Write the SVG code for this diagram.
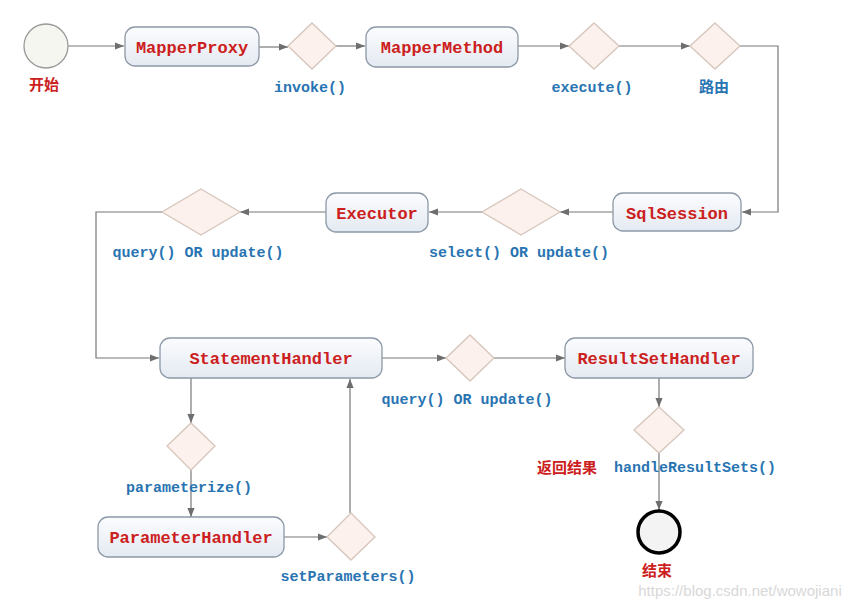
<svg xmlns="http://www.w3.org/2000/svg" width="850" height="600" viewBox="0 0 850 600">
<defs>
<linearGradient id="boxg" x1="0" y1="0" x2="0" y2="1">
<stop offset="0" stop-color="#fbfcfe"/>
<stop offset="1" stop-color="#e4eaf2"/>
</linearGradient>
<marker id="arr" viewBox="0 0 10 10" refX="10" refY="5" markerWidth="9" markerHeight="9" markerUnits="userSpaceOnUse" orient="auto">
<path d="M0,1 L10,5 L0,9 z" fill="#6e6e6e"/>
</marker>
<style>
.box{fill:url(#boxg);stroke:#8d99a6;stroke-width:1.3}
.dia{fill:#fcf1ec;stroke:#d6c6bc;stroke-width:1.3}
.bt{font-family:"Liberation Mono",monospace;font-weight:bold;font-size:17px;fill:#cc2020;text-anchor:middle}
.lb{font-family:"Liberation Mono",monospace;font-weight:bold;font-size:15px;fill:#2874b2;text-anchor:middle}
.cn{font-family:"Noto Sans CJK SC",sans-serif;font-weight:bold;font-size:15px;text-anchor:middle}
.ln{fill:none;stroke:#777;stroke-width:1.2}
</style>
</defs>
<rect width="850" height="600" fill="#ffffff"/>
<g id="connectors">
<path class="ln" d="M68,46 H124" marker-end="url(#arr)"/>
<path class="ln" d="M259,47 H288" marker-end="url(#arr)"/>
<path class="ln" d="M336,46 H365" marker-end="url(#arr)"/>
<path class="ln" d="M518,46 H569" marker-end="url(#arr)"/>
<path class="ln" d="M619,46 H690" marker-end="url(#arr)"/>
<path class="ln" d="M740,46 H778 V212 H742" marker-end="url(#arr)"/>
<path class="ln" d="M613,212 H560" marker-end="url(#arr)"/>
<path class="ln" d="M482,212 H429" marker-end="url(#arr)"/>
<path class="ln" d="M326,212 H240" marker-end="url(#arr)"/>
<path class="ln" d="M162,212 H96 V358 H159" marker-end="url(#arr)"/>
<path class="ln" d="M382,358 H446" marker-end="url(#arr)"/>
<path class="ln" d="M494,358 H565" marker-end="url(#arr)"/>
<path class="ln" d="M659,378 V407" marker-end="url(#arr)"/>
<path class="ln" d="M659,453 V510" marker-end="url(#arr)"/>
<path class="ln" d="M191,378 V423" marker-end="url(#arr)"/>
<path class="ln" d="M191,470 V517" marker-end="url(#arr)"/>
<path class="ln" d="M284,537 H327" marker-end="url(#arr)"/>
<path class="ln" d="M350,513 V379" marker-end="url(#arr)"/>
</g>
<g id="start">
<circle cx="46" cy="46" r="22" fill="#f6f6f0" stroke="#9a9a9a" stroke-width="1.3"/>
<text class="cn" x="44" y="90" fill="#cc2020">开始</text>
</g>
<g id="mapperProxy">
<rect class="box" x="125" y="27" width="134" height="39" rx="10"/>
<text class="bt" x="192" y="53">MapperProxy</text>
</g>
<g id="invoke">
<polygon class="dia" points="312,23 336,46 312,69 288,46"/>
<text class="lb" x="310" y="92">invoke()</text>
</g>
<g id="mapperMethod">
<rect class="box" x="366" y="27" width="152" height="40" rx="10"/>
<text class="bt" x="442" y="53">MapperMethod</text>
</g>
<g id="execute">
<polygon class="dia" points="594,23 619,46 594,69 569,46"/>
<text class="lb" x="592" y="92">execute()</text>
</g>
<g id="route">
<polygon class="dia" points="715,23 740,46 715,69 690,46"/>
<text class="cn" x="714" y="92" fill="#2874b2">路由</text>
</g>
<g id="sqlSession">
<rect class="box" x="613" y="193" width="128" height="38" rx="10"/>
<text class="bt" x="677" y="219">SqlSession</text>
</g>
<g id="selectOrUpdate">
<polygon class="dia" points="521,189 560,212 521,235 482,212"/>
<text class="lb" x="519" y="257">select() OR update()</text>
</g>
<g id="executor">
<rect class="box" x="326" y="193" width="102" height="39" rx="10"/>
<text class="bt" x="377" y="219">Executor</text>
</g>
<g id="queryOrUpdate1">
<polygon class="dia" points="201,189 240,212 201,235 162,212"/>
<text class="lb" x="198" y="257">query() OR update()</text>
</g>
<g id="statementHandler">
<rect class="box" x="160" y="338" width="222" height="40" rx="10"/>
<text class="bt" x="271" y="364">StatementHandler</text>
</g>
<g id="queryOrUpdate2">
<polygon class="dia" points="470,335 494,358 470,381 446,358"/>
<text class="lb" x="467" y="404">query() OR update()</text>
</g>
<g id="resultSetHandler">
<rect class="box" x="565" y="338" width="188" height="40" rx="10"/>
<text class="bt" x="659" y="364">ResultSetHandler</text>
</g>
<g id="handleResultSets">
<polygon class="dia" points="659,407 684,430 659,453 634,430"/>
<text class="cn" x="567" y="473" fill="#cc2020">返回结果</text>
<text class="lb" x="695" y="472">handleResultSets()</text>
</g>
<g id="end">
<circle cx="659" cy="532" r="21" fill="#f3f3f3" stroke="#000" stroke-width="3.5"/>
<text class="cn" x="657" y="576" fill="#cc2020">结束</text>
</g>
<g id="parameterize">
<polygon class="dia" points="191,423 215,446 191,470 167,446"/>
<text class="lb" x="189" y="492">parameterize()</text>
</g>
<g id="parameterHandler">
<rect class="box" x="98" y="517" width="186" height="40" rx="10"/>
<text class="bt" x="191" y="543">ParameterHandler</text>
</g>
<g id="setParameters">
<polygon class="dia" points="351,513 375,537 351,560 327,537"/>
<text class="lb" x="348" y="581">setParameters()</text>
</g>
<text x="740" y="596" font-family="Liberation Sans, sans-serif" font-size="15" fill="#d8d8d8" text-anchor="middle">https://blog.csdn.net/wowojiani</text>
</svg>
